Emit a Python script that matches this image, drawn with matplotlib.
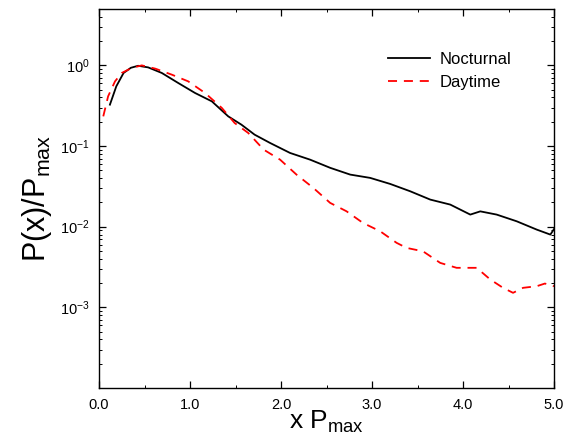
import numpy as np
import matplotlib
matplotlib.use('Agg')
import matplotlib.pyplot as plt
from matplotlib.ticker import FixedLocator, FixedFormatter, LogLocator, MultipleLocator, FormatStrFormatter, NullFormatter

plt.rcParams['font.family'] = ['Liberation Sans', 'DejaVu Sans']
plt.rcParams['mathtext.fontset'] = 'custom'
plt.rcParams['mathtext.rm'] = 'Liberation Sans'
plt.rcParams['mathtext.it'] = 'Liberation Sans:italic'

# values (x in units of P_max, y as log10 of P/Pmax)
noct_x = [0.12, 0.19, 0.27, 0.35, 0.43, 0.54, 0.69, 0.87, 1.055, 1.24, 1.42, 1.565,
          1.71, 1.88, 2.10, 2.32, 2.54, 2.76, 2.98, 3.20, 3.42, 3.64, 3.86, 4.08,
          4.19, 4.37, 4.59, 4.81, 4.96, 5.0]
noct_logy = [-0.487, -0.26, -0.094, -0.03, -0.005, -0.025, -0.094, -0.218, -0.342, -0.446,
             -0.632, -0.735, -0.859, -0.962, -1.086, -1.169, -1.27, -1.354, -1.395, -1.47,
             -1.561, -1.664, -1.726, -1.85, -1.81, -1.85, -1.933, -2.036, -2.098, -2.03]

day_x = [0.047, 0.10, 0.176, 0.25, 0.36, 0.47, 0.62, 0.80, 0.98, 1.165, 1.35, 1.49,
         1.64, 1.81, 1.99, 2.17, 2.355, 2.54, 2.72, 2.90, 3.09, 3.27, 3.38, 3.56,
         3.75, 3.93, 4.15, 4.30, 4.44, 4.55, 4.66, 4.81, 4.90, 5.0]
day_logy = [-0.632, -0.384, -0.198, -0.094, -0.032, 0.0, -0.041, -0.115, -0.198, -0.342,
            -0.528, -0.714, -0.838, -1.045, -1.169, -1.354, -1.519, -1.705, -1.809, -1.953,
            -2.057, -2.2, -2.263, -2.305, -2.449, -2.51, -2.51, -2.655, -2.758, -2.82,
            -2.758, -2.738, -2.705, -2.738]

fig = plt.figure(figsize=(5.71, 4.41), dpi=100)
ax = fig.add_axes([99/571, 1 - 388/441, 455/571, 379/441])

ax.plot(noct_x, 10**np.array(noct_logy), color='black', lw=1.3, label='Nocturnal')
line_day, = ax.plot(day_x, 10**np.array(day_logy), color='red', lw=1.3, label='Daytime')
line_day.set_dashes([5.0, 3.8])

ax.set_yscale('log')
ax.set_xlim(0, 5)
ax.set_ylim(1e-4, 5)

ax.xaxis.set_major_locator(MultipleLocator(1.0))
ax.xaxis.set_minor_locator(MultipleLocator(0.5))
ax.xaxis.set_major_formatter(FormatStrFormatter('%.1f'))

ytick_vals = [1e-3, 1e-2, 1e-1, 1e0]
ytick_labels = [r'$\mathregular{10^{-3}}$', r'$\mathregular{10^{-2}}$',
                r'$\mathregular{10^{-1}}$', r'$\mathregular{10^{0}}$']
ax.yaxis.set_major_locator(FixedLocator(ytick_vals))
ax.yaxis.set_major_formatter(FixedFormatter(ytick_labels))
ax.yaxis.set_minor_locator(LogLocator(base=10, subs=np.arange(2, 10), numticks=20))
ax.yaxis.set_minor_formatter(NullFormatter())

ax.tick_params(which='both', direction='in', top=True, right=True, labelsize=10.5)
ax.tick_params(which='major', length=5, width=0.9, pad=7)
ax.tick_params(which='minor', length=2.5, width=0.7)
for s in ax.spines.values():
    s.set_linewidth(1.0)

ax.set_xlabel(r'x P$_{\mathregular{max}}$', fontsize=19, labelpad=-2)
ax.set_ylabel(r'P(x)/P$_{\mathregular{max}}$', fontsize=22, labelpad=4)

ax.legend(loc='upper left', bbox_to_anchor=((380 - 99) / 455, (388 - 44) / 379),
          frameon=False, fontsize=12, borderpad=0, handlelength=2.5,
          handletextpad=0.55, labelspacing=0.45)

fig.savefig('out.png', dpi=100)
